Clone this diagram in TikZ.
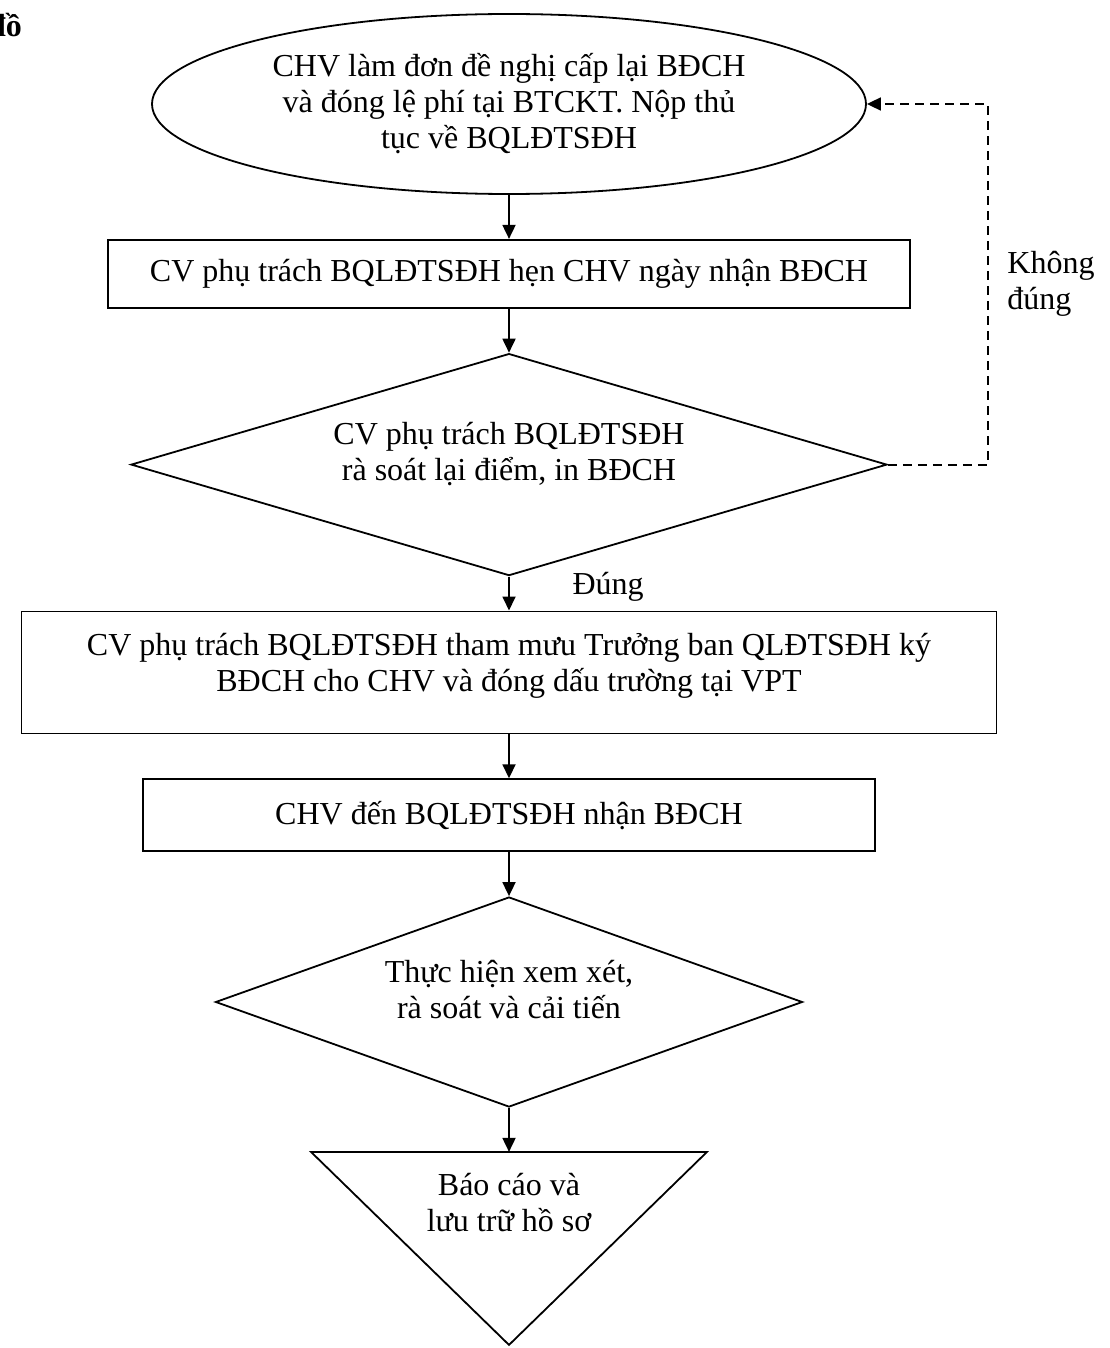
\documentclass[tikz,border=0pt]{standalone}
\usepackage{fontspec}
\setmainfont{Liberation Serif}
\usetikzlibrary{positioning,shapes.geometric,arrows.meta}

\tikzset{
  khoi/.style={draw, line width=0.9pt, align=center, inner sep=2pt},
  hop/.style={khoi, rectangle},
  quyetdinh/.style={khoi, diamond},
  muiten/.style={-{Triangle[length=7pt,width=6.5pt]}, line width=0.9pt},
}

\begin{document}
\begin{tikzpicture}[x=0.5pt, y=-0.5pt, node distance=22pt,
    every node/.style={font=\fontsize{16pt}{18pt}\selectfont}]
  \useasboundingbox (0,0) rectangle (1109,1348);
  \node[font=\fontsize{16pt}{18pt}\selectfont\bfseries, anchor=base west] (tieude) at (-19,37) {đồ};

  \node (a) [khoi, ellipse, minimum width=357pt, minimum height=90pt] at (509,104)
    {CHV làm đơn đề nghị cấp lại BĐCH\\và đóng lệ phí tại BTCKT. Nộp thủ\\tục về BQLĐTSĐH};
  \node (b) [hop, below=of a, minimum width=401pt, minimum height=34pt]
    {CV phụ trách BQLĐTSĐH hẹn CHV ngày nhận BĐCH};
  \node (c) [quyetdinh, aspect=3.4, text depth=13pt, below=of b, minimum width=378pt, minimum height=111pt]
    {CV phụ trách BQLĐTSĐH\\rà soát lại điểm, in BĐCH};
  \node (d) [hop, text depth=10pt, below=17pt of c, minimum width=487.5pt, minimum height=61pt]
    {CV phụ trách BQLĐTSĐH tham mưu Trưởng ban QLĐTSĐH ký\\BĐCH cho CHV và đóng dấu trường tại VPT};
  \node (e) [hop, below=of d, minimum width=366pt, minimum height=36pt]
    {CHV đến BQLĐTSĐH nhận BĐCH};
  \node (f) [quyetdinh, aspect=2.8, text depth=13pt, below=of e, minimum width=293.5pt, minimum height=105pt]
    {Thực hiện xem xét,\\rà soát và cải tiến};
  % tam giac ket thuc
  \coordinate [below=of f] (gtop);
  \node (g) [below=7pt of gtop, align=center] {Báo cáo và\\lưu trữ hồ sơ};
  \draw [line width=0.9pt]([xshift=-99pt]gtop)--([xshift=99pt]gtop)--([yshift=-96.5pt]gtop)--cycle;

  \draw [muiten](a)--(b);
  \draw [muiten](b)--(c);
  \draw [muiten](c)--node[pos=0.3, right=28pt] (dung) {Đúng}(d);
  \draw [muiten](d)--(e);
  \draw [muiten](e)--(f);
  \draw [muiten](f)--(gtop);
  \draw [muiten, dash pattern=on 4.5pt off 3pt](c.east)--++(100,0)
    |- node[pos=0.25, right=6pt, align=left] (khong) {Không\\đúng} (a.east);
\end{tikzpicture}
\end{document}
